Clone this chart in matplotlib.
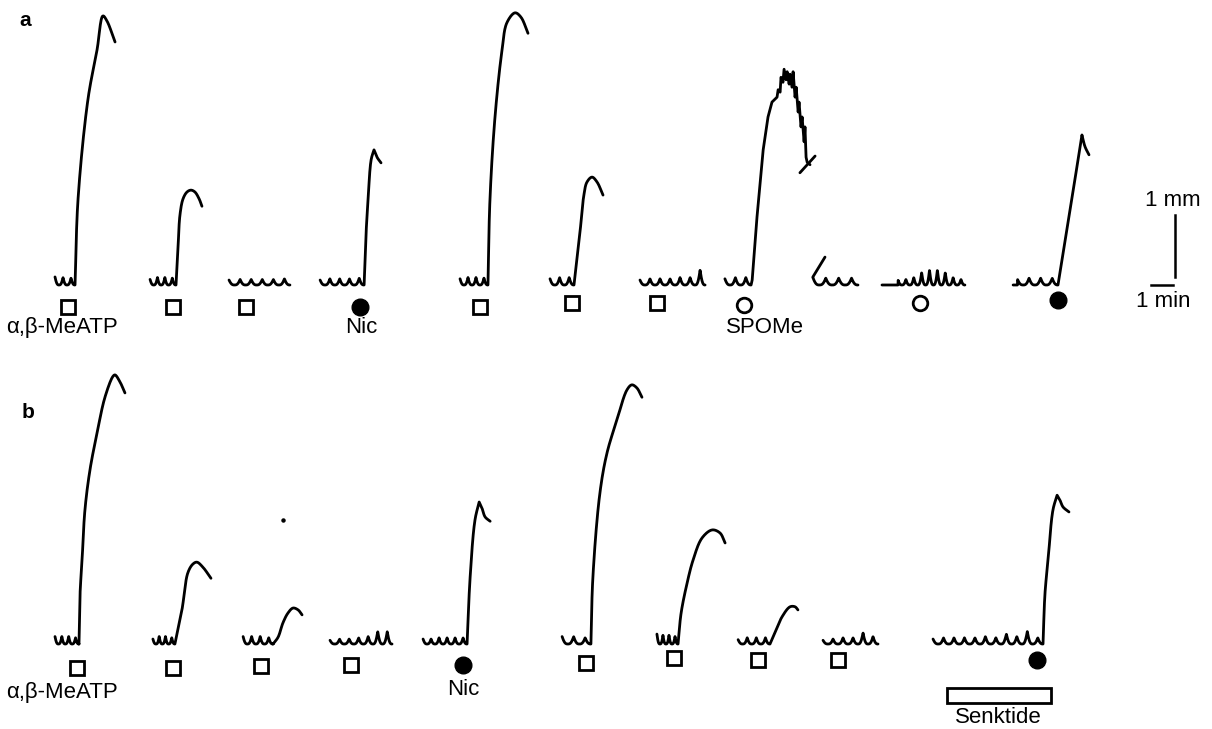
import numpy as np
import matplotlib.pyplot as plt
from matplotlib.patches import Rectangle

plt.rcParams['font.family'] = ['Liberation Sans', 'DejaVu Sans']

# units: time in min, contraction in mm (see the scale bar)
# ---------------- panel a ----------------
A_START = [2.50, 6.82, 10.41, 14.55, 20.91, 25.00, 29.09, 32.95, 36.95, 40.09, 46.05]
A_ONSET = [3.41, 8.00, 13.18, 16.55, 22.18, 26.09, 32.05, 34.14, 39.00, 43.86, 48.09]
A_LEAD = [0, 0, 0, 0, 0, 0, 0, 0, 0, 0.73, 0.2]
A_TWITCH = [
    [0.13, 0.12, 0.11],
    [0.09, 0.12, 0.12, 0.11],
    [0.08, 0.09, 0.09, 0.09, 0.09, 0.10],
    [0.08, 0.10, 0.10, 0.10, 0.11],
    [0.10, 0.12, 0.12, 0.11],
    [0.10, 0.12, 0.12],
    [0.08, 0.10, 0.10, 0.10, 0.12, 0.12, 0.24],
    [0.10, 0.12, 0.12],
    [0.12, 0.11, 0.11, 0.11],
    [0.08, 0.09, 0.12, 0.20, 0.24, 0.24, 0.20, 0.12, 0.09],
    [0.09, 0.11, 0.11, 0.11],
]
A_TIP = ['round', 'round', None, 'sharp', 'round', 'round', None, 'noisy', None, None, 'sharp']
A_RESP_T = [
    [0, 0.14, 0.59, 1.00, 1.27, 1.45, 1.82],
    [0, 0.09, 0.18, 0.32, 0.50, 0.68, 0.86, 1.05, 1.18],
    None,
    [0, 0.09, 0.18, 0.32, 0.45, 0.59, 0.77],
    [0, 0.09, 0.32, 0.64, 0.86, 1.23, 1.50, 1.82],
    [0, 0.27, 0.45, 0.59, 0.82, 1.05, 1.32],
    None,
    [0, 0.05, 0.27, 0.55, 0.77, 0.95, 1.18, 1.23, 1.32, 1.36, 1.45, 1.50,
     1.59, 1.64, 1.73, 1.77, 1.86, 1.91, 2.00, 2.05, 2.14, 2.18, 2.27, 2.32, 2.41,
     2.45, 2.50, 2.55, 2.68],
    None,
    None,
    [0, 0.55, 1.09, 1.23, 1.41],
]
A_RESP_MM = [
    [0, 1.40, 3.00, 3.79, 4.34, 4.26, 3.92],
    [0, 0.58, 1.13, 1.39, 1.50, 1.53, 1.50, 1.39, 1.27],
    None,
    [0, 0.84, 1.37, 2.02, 2.18, 2.06, 1.97],
    [0, 1.37, 2.71, 3.79, 4.23, 4.39, 4.32, 4.06],
    [0, 0.84, 1.45, 1.66, 1.74, 1.66, 1.45],
    None,
    [0, 0.08, 1.10, 2.18, 2.71, 2.95, 3.03, 3.15, 3.11, 3.35, 3.27, 3.48,
     3.31, 3.44, 3.24, 3.40, 3.19, 3.44, 3.03, 3.19, 2.79, 2.95, 2.55, 2.71, 2.31,
     2.55, 2.06, 1.98, 1.94],
    None,
    None,
    [0, 1.21, 2.42, 2.23, 2.10],
]
A_RESET_T = [[36.36, 37.05], [37.50, 36.95]]
A_RESET_MM = [[1.81, 2.08], [0.45, 0.13]]
A_SQ_T = [3.09, 7.86, 11.18, 21.82, 26.00, 29.86]
A_SQ_MM = [-0.35, -0.35, -0.35, -0.35, -0.29, -0.29]
A_NIC_T = [16.36, 48.09]
A_NIC_MM = [-0.35, -0.24]
A_SPOME_T = [33.82, 41.82]
A_SPOME_MM = [-0.32, -0.29]

# ---------------- panel b ----------------
B_START = [2.50, 6.95, 11.05, 15.00, 19.23, 25.55, 29.86, 33.55, 37.41, 42.41]
B_ONSET = [3.59, 7.95, 12.41, 17.82, 21.23, 26.86, 30.82, 35.00, 39.91, 47.41]
B_LEAD = [0, 0, 0, 0, 0, 0, 0, 0, 0, 0]
B_TWITCH = [
    [0.12, 0.12, 0.12, 0.10],
    [0.08, 0.12, 0.12, 0.10],
    [0.12, 0.12, 0.12, 0.10],
    [0.06, 0.08, 0.08, 0.10, 0.12, 0.20, 0.20],
    [0.08, 0.08, 0.10, 0.10, 0.10, 0.10],
    [0.12, 0.12, 0.10],
    [0.16, 0.14, 0.14, 0.12],
    [0.07, 0.10, 0.10, 0.10],
    [0.06, 0.08, 0.10, 0.10, 0.18, 0.12],
    [0.08, 0.10, 0.10, 0.10, 0.10, 0.12, 0.10, 0.16, 0.12, 0.20, 0.10],
]
B_TIP = ['round', 'round', 'round', None, 'sharp', 'round', 'round', 'round', None, 'sharp']
B_RESP_T = [
    [0, 0.05, 0.14, 0.27, 0.50, 0.82, 1.18, 1.55, 1.64, 1.86, 2.09],
    [0, 0.32, 0.59, 0.82, 1.00, 1.27, 1.64],
    [0, 0.23, 0.45, 0.68, 0.91, 1.14, 1.32],
    None,
    [0, 0.14, 0.36, 0.55, 0.68, 0.82, 1.05],
    [0, 0.09, 0.41, 0.73, 1.18, 1.64, 1.86, 2.09, 2.32],
    [0, 0.14, 0.41, 0.68, 1.09, 1.55, 1.91, 2.14],
    [0, 0.23, 0.55, 0.91, 1.14, 1.27],
    None,
    [0, 0.09, 0.23, 0.45, 0.64, 0.77, 0.91, 1.18],
]
B_RESP_MM = [
    [0, 0.82, 1.35, 2.16, 2.81, 3.40, 3.98, 4.32, 4.34, 4.23, 4.05],
    [0, 0.55, 1.15, 1.29, 1.32, 1.24, 1.06],
    [0, 0.11, 0.34, 0.50, 0.58, 0.55, 0.47],
    None,
    [0, 1.08, 2.00, 2.29, 2.19, 2.05, 1.98],
    [0, 1.08, 2.44, 3.08, 3.61, 4.10, 4.18, 4.13, 3.98],
    [0, 0.50, 0.98, 1.35, 1.71, 1.84, 1.79, 1.63],
    [0, 0.19, 0.44, 0.60, 0.60, 0.55],
    None,
    [0, 0.82, 1.35, 2.16, 2.40, 2.32, 2.21, 2.13],
]
B_SQ_T = [3.50, 7.86, 11.86, 15.95, 26.64, 30.64, 34.45, 38.09]
B_SQ_MM = [-0.39, -0.39, -0.35, -0.34, -0.31, -0.23, -0.26, -0.26]
B_NIC_T = [21.05, 47.14]
B_NIC_MM = [-0.34, -0.26]
B_DOT = (12.86, 2.00)
SENKTIDE_T = (43.05, 47.77)
SENKTIDE_MM = (-0.95, -0.71)

ASPECT = np.array([22.0, 62.0])  # drawn size of 1 min and 1 mm


def catmull(pts, n=20):
    # centripetal Catmull-Rom, done in equal drawn units so it does not overshoot
    pts = np.asarray(pts, float) * ASPECT
    if len(pts) < 3:
        return pts / ASPECT
    ext = np.vstack([2 * pts[0] - pts[1], pts, 2 * pts[-1] - pts[-2]])
    out = []
    for i in range(1, len(ext) - 2):
        p0, p1, p2, p3 = ext[i - 1], ext[i], ext[i + 1], ext[i + 2]
        t0 = 0.0
        t1 = t0 + max(np.linalg.norm(p1 - p0), 1e-6) ** 0.5
        t2 = t1 + max(np.linalg.norm(p2 - p1), 1e-6) ** 0.5
        t3 = t2 + max(np.linalg.norm(p3 - p2), 1e-6) ** 0.5
        t = np.linspace(t1, t2, n, endpoint=False)[:, None]
        a1 = (t1 - t) / (t1 - t0) * p0 + (t - t0) / (t1 - t0) * p1
        a2 = (t2 - t) / (t2 - t1) * p1 + (t - t1) / (t2 - t1) * p2
        a3 = (t3 - t) / (t3 - t2) * p2 + (t - t2) / (t3 - t2) * p3
        b1 = (t2 - t) / (t2 - t0) * a1 + (t - t0) / (t2 - t0) * a2
        b2 = (t3 - t) / (t3 - t1) * a2 + (t - t1) / (t3 - t1) * a3
        out.append((t2 - t) / (t2 - t1) * b1 + (t - t1) / (t2 - t1) * b2)
    out.append(pts[-1:])
    return np.vstack(out) / ASPECT


def baseline(t0, t1, amps, lead):
    n = len(amps)
    w = (t1 - t0 - lead) / (n - 0.5)
    t = np.linspace(t0, t1, 60 * n + 20)
    y = np.zeros_like(t)
    ph = (t - t0 - lead) / w
    for j, tt in enumerate(ph):
        if tt < 0:
            continue
        k = int(np.floor(tt))
        p = tt - k
        if p < 0.5:
            a = amps[min(k, n - 1)]
        else:
            a = amps[k + 1] if k + 1 < n else 0.0
        y[j] = a * (1 - np.sin(np.pi * p)) ** 1.5
    return t, y


def draw_traces(ax, start, onset, lead, twitch, tip, resp_t, resp_mm):
    for i in range(len(start)):
        bt, by = baseline(start[i], onset[i], twitch[i], lead[i])
        xs, ys = [bt], [by]
        if resp_t[i] is not None:
            pts = np.column_stack([np.array(resp_t[i]) + onset[i], resp_mm[i]])
            if tip[i] == 'noisy':
                curve = pts
            elif tip[i] == 'sharp':
                k = int(np.argmax(pts[:, 1]))
                curve = np.vstack([catmull(pts[:k + 1]), catmull(pts[k:])])
            else:
                curve = catmull(pts)
            xs.append(curve[:, 0])
            ys.append(curve[:, 1])
        ax.plot(np.concatenate(xs), np.concatenate(ys), color='black', lw=2.0,
                solid_joinstyle='round', solid_capstyle='round')


fig = plt.figure(figsize=(12.12, 7.29), dpi=100)
ax_a = fig.add_axes([0, 369 / 729, 1, 360 / 729])
ax_b = fig.add_axes([0, 0, 1, 369 / 729])
ax_a.set_xlim(0, 1212 / 22)
ax_b.set_xlim(0, 1212 / 22)
ax_a.set_ylim(-1.21, 4.597)
ax_b.set_ylim(-1.371, 4.581)
for ax in (ax_a, ax_b):
    ax.axis('off')

lab = dict(fontsize=16, ha='center', va='center')
sq = dict(ls='none', marker='s', ms=9.5, mfc='white', mec='black', mew=2.0)
full = dict(ls='none', marker='o', ms=12, mfc='black', mec='black')
empty = dict(ls='none', marker='o', ms=10.5, mfc='white', mec='black', mew=2.0)

# panel a
draw_traces(ax_a, A_START, A_ONSET, A_LEAD, A_TWITCH, A_TIP, A_RESP_T, A_RESP_MM)
for rt, rm in zip(A_RESET_T, A_RESET_MM):
    ax_a.plot(rt, rm, color='black', lw=2.0, solid_capstyle='round')
ax_a.plot(A_SQ_T, A_SQ_MM, **sq)
ax_a.plot(A_NIC_T, A_NIC_MM, **full)
ax_a.plot(A_SPOME_T, A_SPOME_MM, **empty)
ax_a.text(2.82, -0.68, 'α,β-MeATP', **lab)
ax_a.text(16.41, -0.68, 'Nic', **lab)
ax_a.text(34.77, -0.68, 'SPOMe', **lab)
ax_a.text(1.14, 4.27, 'a', fontsize=15, fontweight='bold', ha='center', va='center')

# scale bars
ax_a.plot([53.41, 53.41], [0.13, 1.13], color='black', lw=1.8)
ax_a.plot([52.32, 53.32], [0, 0], color='black', lw=1.8)
ax_a.text(53.32, 1.37, '1 mm', **lab)
ax_a.text(52.86, -0.27, '1 min', **lab)

# panel b
draw_traces(ax_b, B_START, B_ONSET, B_LEAD, B_TWITCH, B_TIP, B_RESP_T, B_RESP_MM)
ax_b.plot(*B_DOT, ls='none', marker='o', ms=2.2, color='black')
ax_b.plot(B_SQ_T, B_SQ_MM, **sq)
ax_b.plot(B_NIC_T, B_NIC_MM, **full)
ax_b.add_patch(Rectangle((SENKTIDE_T[0], SENKTIDE_MM[0]), SENKTIDE_T[1] - SENKTIDE_T[0],
                         SENKTIDE_MM[1] - SENKTIDE_MM[0], facecolor='white',
                         edgecolor='black', lw=2.0))
ax_b.text(2.82, -0.79, 'α,β-MeATP', **lab)
ax_b.text(21.05, -0.74, 'Nic', **lab)
ax_b.text(45.36, -1.18, 'Senktide', **lab)
ax_b.text(1.27, 3.74, 'b', fontsize=15, fontweight='bold', ha='center', va='center')

fig.savefig('out.png', dpi=100)
